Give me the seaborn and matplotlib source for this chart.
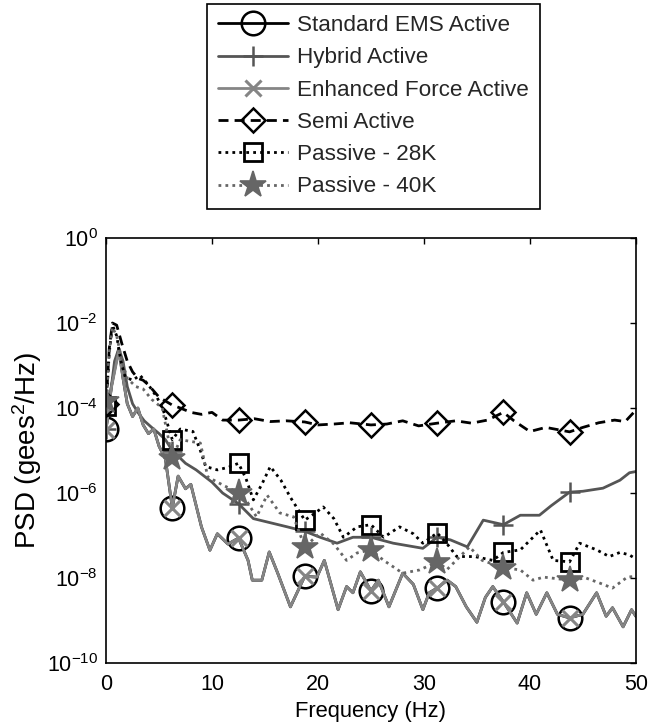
import numpy as np
import pandas as pd
import matplotlib
matplotlib.use("Agg")
import matplotlib.pyplot as plt
import seaborn as sns
from matplotlib.ticker import NullLocator, LogFormatterSciNotation

# ---------------------------------------------------------------------------
# PSD of body acceleration for the six suspension configurations
# ---------------------------------------------------------------------------
marker_freqs = [0, 6.25, 12.5, 18.75, 25, 31.25, 37.5, 43.75]

ems_freq = [0, 0.5, 1.2, 1.6, 2.0, 2.5, 3.0, 3.5, 4.0, 4.5, 5.0, 5.6, 6.25, 6.8,
            7.5, 8.0, 9.0, 9.8, 10.5, 11.5, 12.5, 13.4, 13.8, 14.7, 15.4, 16.2,
            17.4, 18.75, 19.9, 20.6, 21.9, 22.7, 23.3, 24.0, 25.0, 25.7, 26.7,
            28.0, 29.0, 29.9, 30.5, 31.25, 32.2, 33.0, 34.0, 35.0, 35.8, 36.5,
            37.5, 38.8, 39.7, 40.6, 41.6, 42.6, 43.75, 45.0, 46.3, 47.2, 47.8,
            48.8, 49.6, 50.0]
ems_psd = [3.2e-5, 3.2e-4, 2.5e-3, 5.0e-4, 1.26e-4, 6.3e-5, 1.0e-4, 4.0e-5,
           2.5e-5, 3.2e-5, 1.26e-5, 6.3e-6, 4.5e-7, 2.5e-6, 1.26e-6, 1.6e-6,
           1.6e-7, 4.5e-8, 1.1e-7, 6.3e-8, 8.7e-8, 2.6e-8, 8.9e-9, 8.9e-9,
           4.1e-8, 1.3e-8, 2.1e-9, 1.1e-8, 1.05e-8, 2.6e-8, 1.8e-9, 6.3e-9,
           4.5e-9, 1.4e-8, 5.0e-9, 8.9e-9, 2.1e-9, 1.3e-8, 7.1e-9, 1.8e-9,
           4.5e-9, 5.8e-9, 8.9e-9, 6.3e-9, 2.1e-9, 9.1e-10, 3.5e-9, 6.3e-9,
           2.75e-9, 8.7e-10, 4.5e-9, 1.4e-9, 4.5e-9, 1.4e-9, 1.15e-9, 1.4e-9,
           4.5e-9, 1.26e-9, 2.0e-9, 7.1e-10, 1.8e-9, 1.26e-9]

hybrid_freq = [0, 0.4, 0.8, 1.2, 1.6, 2.0, 2.5, 3.0, 3.6, 4.3, 5.0, 5.6, 6.25,
               7.5, 8.5, 10.0, 11.0, 12.5, 13.9, 15.5, 17.1, 18.75, 20.2, 21.8,
               23.3, 25.0, 27.1, 29.9, 31.25, 32.5, 34.1, 35.6, 37.5, 39.1,
               40.9, 42.0, 43.75, 45.0, 46.9, 48.5, 49.4, 50.0]
hybrid_psd = [3.2e-5, 2.0e-4, 1.26e-3, 2.5e-3, 1.26e-3, 3.2e-4, 1.26e-4,
              7.9e-5, 5.0e-5, 3.5e-5, 2.5e-5, 1.8e-5, 1.0e-5, 5.0e-6, 3.5e-6,
              1.8e-6, 1.0e-6, 5.6e-7, 2.5e-7, 2.0e-7, 1.6e-7, 1.26e-7, 9.1e-8,
              6.6e-8, 9.1e-8, 9.1e-8, 6.6e-8, 5.0e-8, 9.1e-8, 7.9e-8, 5.4e-8,
              2.3e-7, 1.8e-7, 3.0e-7, 3.0e-7, 5.0e-7, 1.05e-6, 1.1e-6, 1.3e-6,
              2.0e-6, 3.0e-6, 3.2e-6]

enhanced_freq = ems_freq
enhanced_psd = [3.0e-5, 3.0e-4, 2.2e-3, 5.0e-4, 1.26e-4, 6.3e-5, 1.0e-4, 4.0e-5,
                2.5e-5, 3.2e-5, 1.26e-5, 6.3e-6, 4.5e-7, 2.5e-6, 1.26e-6, 1.6e-6,
                1.6e-7, 4.5e-8, 1.1e-7, 6.3e-8, 8.7e-8, 2.6e-8, 8.9e-9, 8.9e-9,
                4.1e-8, 1.3e-8, 2.1e-9, 1.1e-8, 1.05e-8, 2.6e-8, 1.8e-9, 6.3e-9,
                4.5e-9, 1.4e-8, 5.0e-9, 8.9e-9, 2.1e-9, 1.3e-8, 7.1e-9, 1.8e-9,
                4.5e-9, 5.8e-9, 8.9e-9, 6.3e-9, 2.1e-9, 9.1e-10, 3.5e-9, 6.3e-9,
                2.75e-9, 8.7e-10, 4.5e-9, 1.4e-9, 4.5e-9, 1.4e-9, 1.15e-9, 1.4e-9,
                4.5e-9, 1.26e-9, 2.0e-9, 7.1e-10, 1.8e-9, 1.26e-9]

semi_freq = [0, 0.3, 0.6, 1.0, 1.5, 2.0, 2.5, 3.0, 3.5, 4.0, 5.0, 6.25, 7.0, 8.0,
             9.0, 10.0, 11.0, 12.5, 14.0, 15.5, 17.0, 18.75, 20.0, 21.5, 23.0,
             25.0, 26.5, 28.0, 29.5, 31.25, 33.0, 34.5, 36.0, 37.5, 38.5, 40.0,
             41.5, 43.75, 45.0, 46.5, 48.0, 49.0, 50.0]
semi_psd = [1.26e-4, 2.5e-3, 1.0e-2, 8.9e-3, 3.2e-3, 1.26e-3, 7.1e-4, 5.0e-4,
            4.5e-4, 3.5e-4, 1.8e-4, 1.17e-4, 1.0e-4, 7.9e-5, 7.1e-5, 7.9e-5,
            5.2e-5, 5.2e-5, 5.6e-5, 4.8e-5, 5.0e-5, 4.7e-5, 4.0e-5, 4.2e-5,
            4.5e-5, 4.0e-5, 4.2e-5, 5.0e-5, 3.8e-5, 4.4e-5, 5.0e-5, 4.4e-5,
            5.2e-5, 7.9e-5, 5.0e-5, 2.8e-5, 3.5e-5, 2.75e-5, 3.5e-5, 4.5e-5,
            5.2e-5, 4.8e-5, 8.9e-5]

p28_freq = [0, 0.3, 0.6, 1.0, 1.4, 1.8, 2.5, 3.2, 4.0, 4.8, 5.4, 6.25, 7.0, 8.2,
            8.9, 9.4, 10.5, 11.5, 12.5, 13.2, 13.9, 14.7, 15.5, 16.5, 17.4,
            18.75, 19.6, 20.5, 21.5, 22.4, 23.7, 25.0, 26.2, 27.7, 29.0, 29.9,
            31.25, 32.2, 33.1, 34.8, 36.5, 37.5, 39.1, 41.0, 42.2, 43.75, 44.7,
            46.3, 47.5, 48.5, 49.4, 50.0]
p28_psd = [1.1e-4, 2.0e-3, 8.9e-3, 5.0e-3, 1.26e-3, 5.4e-4, 4.5e-4, 5.9e-4,
           3.5e-4, 1.8e-4, 8.9e-5, 1.8e-5, 3.2e-5, 2.8e-5, 1.0e-5, 4.2e-6,
           3.5e-6, 4.0e-6, 5.0e-6, 2.2e-6, 6.9e-7, 1.6e-6, 4.2e-6, 2.0e-6,
           7.9e-7, 2.3e-7, 3.2e-7, 4.7e-7, 2.5e-7, 9.1e-8, 1.6e-7, 1.8e-7,
           9.1e-8, 1.6e-7, 1.1e-7, 6.6e-8, 1.15e-7, 6.3e-8, 3.2e-8, 3.2e-8,
           2.6e-8, 4.0e-8, 4.6e-8, 1.35e-7, 2.6e-8, 2.4e-8, 6.6e-8, 4.6e-8,
           3.2e-8, 4.0e-8, 3.5e-8, 2.8e-8]

p40_freq = [0, 0.3, 0.6, 1.0, 1.5, 2.0, 2.8, 3.5, 4.3, 5.3, 6.25, 7.0, 8.9, 9.6,
            10.5, 12.5, 13.3, 14.2, 15.2, 16.4, 17.7, 18.75, 20.2, 21.5, 22.7,
            23.7, 25.0, 26.2, 28.0, 29.6, 31.25, 32.2, 33.4, 34.3, 35.5, 37.5,
            39.1, 40.3, 41.3, 43.75, 45.3, 46.6, 47.8, 49.2, 50.0]
p40_psd = [1.5e-4, 2.0e-3, 7.9e-3, 5.0e-3, 1.26e-3, 5.0e-4, 3.2e-4, 2.8e-4,
           1.6e-4, 1.0e-4, 6.6e-6, 1.8e-5, 1.5e-5, 2.4e-6, 1.8e-6, 1.0e-6,
           6.3e-7, 2.75e-7, 8.9e-7, 3.4e-7, 2.75e-7, 5.4e-8, 1.15e-7, 6.3e-8,
           2.6e-8, 3.9e-8, 4.6e-8, 2.6e-8, 1.3e-8, 1.55e-8, 2.4e-8, 1.6e-8,
           3.2e-8, 5.4e-8, 2.6e-8, 1.75e-8, 1.55e-8, 8.9e-9, 1.05e-8, 8.9e-9,
           1.0e-8, 7.6e-9, 5.8e-9, 1.05e-8, 1.1e-8]

labels = ["Standard EMS Active", "Hybrid Active", "Enhanced Force Active",
          "Semi Active", "Passive - 28K", "Passive - 40K"]

# ---------------------------------------------------------------------------
sns.set_theme(style="white")
plt.rcParams["font.family"] = ["Liberation Sans", "DejaVu Sans"]
plt.rcParams["mathtext.default"] = "regular"
plt.rcParams["axes.unicode_minus"] = False

TICK_FS = 15.5
XLABEL_FS = 15.8
YLABEL_FS = 20
LEG_FS = 16.2
LW = 2.0

styles = [
    dict(color="black", linestyle="-", marker="o", markersize=17,
         markerfacecolor="none", markeredgecolor="black", markeredgewidth=1.8),
    dict(color="#555555", linestyle="-", marker="+", markersize=15,
         markerfacecolor="none", markeredgecolor="#555555", markeredgewidth=1.8),
    dict(color="#858585", linestyle="-", marker="x", markersize=11,
         markerfacecolor="none", markeredgecolor="#858585", markeredgewidth=2.2),
    dict(color="black", linestyle=(0, (3.6, 2.2)), marker="D", markersize=12.5,
         markerfacecolor="none", markeredgecolor="black", markeredgewidth=1.8),
    dict(color="black", linestyle=(0, (1.0, 1.5)), marker="s", markersize=13.5,
         markerfacecolor="none", markeredgecolor="black", markeredgewidth=2.0),
    dict(color="#666666", linestyle=(0, (1.0, 1.5)), marker="*", markersize=20,
         markerfacecolor="#666666", markeredgecolor="#666666", markeredgewidth=1.2),
]

data = [(ems_freq, ems_psd), (hybrid_freq, hybrid_psd),
        (enhanced_freq, enhanced_psd), (semi_freq, semi_psd),
        (p28_freq, p28_psd), (p40_freq, p40_psd)]

fig = plt.figure(figsize=(6.63, 7.27), dpi=100)
ax = fig.add_axes([0.160, 0.088, 0.799, 0.5846])
ax.set_yscale("log")

handles = []
for (freq, psd), label, st in zip(data, labels, styles):
    df = pd.DataFrame({"freq": freq, "psd": psd})
    idx = [i for i, f in enumerate(freq) if f in marker_freqs]
    n_before = len(ax.lines)
    sns.lineplot(data=df, x="freq", y="psd", ax=ax, sort=False, estimator=None,
                 linewidth=LW, markevery=idx, legend=False, **st)
    line = ax.lines[n_before]
    line.set_label(label)
    handles.append(line)

ax.set_xlim(0, 50)
ax.set_ylim(1e-10, 1e0)
ax.set_xticks([0, 10, 20, 30, 40, 50])
ax.set_yticks([1e-10, 1e-8, 1e-6, 1e-4, 1e-2, 1e0])
ax.yaxis.set_minor_locator(NullLocator())
ax.yaxis.set_major_formatter(LogFormatterSciNotation())
ax.tick_params(axis="both", which="major", direction="in", length=4,
               width=1.0, labelsize=TICK_FS, colors="black", top=True,
               right=True)
ax.tick_params(axis="x", pad=8)
ax.tick_params(axis="y", pad=6)
for sp in ax.spines.values():
    sp.set_color("black")
    sp.set_linewidth(1.2)

ax.set_xlabel("Frequency (Hz)", fontsize=XLABEL_FS, color="black", labelpad=4)
ax.set_ylabel("PSD (gees$^2$/Hz)", fontsize=YLABEL_FS, color="black",
              labelpad=2)

leg = fig.legend(handles, labels, loc="upper left",
                 bbox_to_anchor=(0.312, 0.9945), bbox_transform=fig.transFigure,
                 frameon=True, fancybox=False, edgecolor="black", framealpha=1,
                 borderpad=0.5, labelspacing=0.5, handlelength=3.1,
                 handletextpad=0.4, borderaxespad=0, fontsize=LEG_FS,
                 numpoints=1)
leg.get_frame().set_linewidth(1.2)

fig.savefig("out.png", dpi=100, facecolor="white")
